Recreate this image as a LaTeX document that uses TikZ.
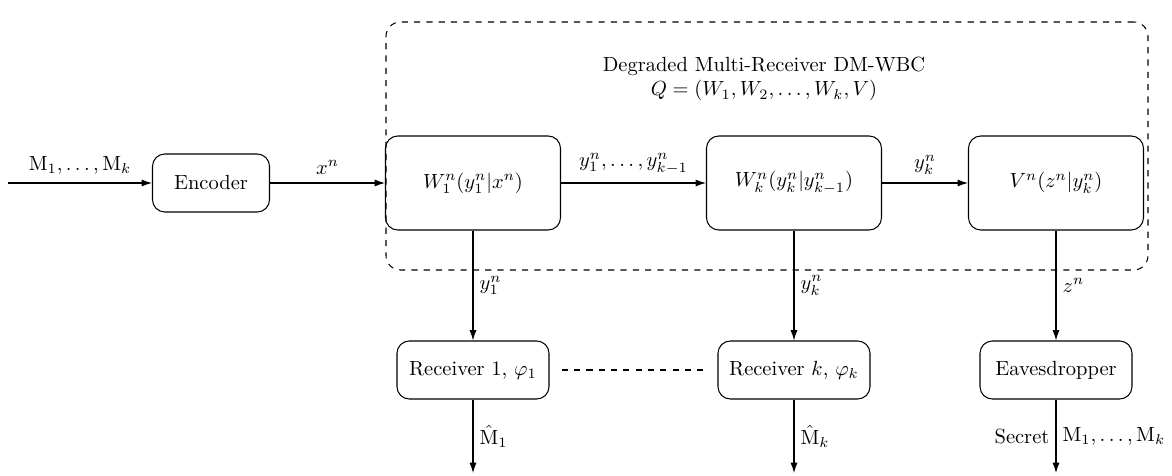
\documentclass[tikz,border=0pt]{standalone}
\usetikzlibrary{arrows.meta}
\begin{document}
\begin{tikzpicture}[x=0.4878pt,y=-0.4878pt,
  blk/.style={draw,rounded corners=6pt,line width=0.5pt,inner sep=0pt},
  flow/.style={-{Latex[length=5pt,width=3.4pt]},line width=0.5pt},
  lbl/.style={inner sep=1pt}]
\useasboundingbox (0,0) rectangle (1172,476);
% channel frame
\node[draw,dashed,rounded corners=7pt,line width=0.5pt,minimum width=762*0.4878pt,minimum height=248*0.4878pt,inner sep=0pt] (chan) at (767,146) {};
\node[anchor=base] (title) at (764,72) {Degraded Multi-Receiver DM-WBC};
\node[anchor=base] (qdef) at (764,96) {$Q=(W_1,W_2,\ldots,W_k,V)$};
% blocks
\node[blk,minimum width=117*0.4878pt,minimum height=58*0.4878pt] (enc) at (211,183) {Encoder};
\node[blk,minimum width=175*0.4878pt,minimum height=94*0.4878pt] (w1) at (473,183) {$W_1^n(y_1^n|x^n)$};
\node[blk,minimum width=175*0.4878pt,minimum height=94*0.4878pt] (wk) at (794,183) {$W_k^n(y_k^n|y_{k-1}^n)$};
\node[blk,minimum width=175*0.4878pt,minimum height=94*0.4878pt] (v) at (1056,183) {$V^n(z^n|y_k^n)$};
\node[blk,minimum width=152*0.4878pt,minimum height=58*0.4878pt] (r1) at (473,370) {Receiver 1, $\varphi_1$};
\node[blk,minimum width=152*0.4878pt,minimum height=58*0.4878pt] (rk) at (794,370) {Receiver $k$, $\varphi_k$};
\node[blk,minimum width=152*0.4878pt,minimum height=58*0.4878pt] (ev) at (1056,370) {Eavesdropper};
% free ends
\coordinate (in) at (8,183);
\coordinate (o1) at (473,473);
\coordinate (ok) at (794,473);
\coordinate (oe) at (1056,473);
% connectors
\draw[flow] (in) -- node[lbl,above,yshift=3pt] {$\mathrm{M}_1,\ldots,\mathrm{M}_k$} (enc);
\draw[flow] (enc) -- node[lbl,above,yshift=3pt] {$x^n$} (w1);
\draw[flow] (w1) -- node[lbl,above,yshift=3pt] {$y_1^n,\ldots,y_{k-1}^n$} (wk);
\draw[flow] (wk) -- node[lbl,above,yshift=3pt] {$y_k^n$} (v);
\draw[flow] (w1) -- node[lbl,right,pos=0.5,xshift=2pt] {$y_1^n$} (r1);
\draw[flow] (wk) -- node[lbl,right,pos=0.5,xshift=2pt] {$y_k^n$} (rk);
\draw[flow] (v) -- node[lbl,right,pos=0.5,xshift=2pt] {$z^n$} (ev);
\draw[flow] (r1) -- node[lbl,right,xshift=2pt] {$\hat{\mathrm{M}}_1$} (o1);
\draw[flow] (rk) -- node[lbl,right,xshift=2pt] {$\hat{\mathrm{M}}_k$} (ok);
\draw[flow] (ev) -- node[lbl,right,xshift=2pt] {$\mathrm{M}_1,\ldots,\mathrm{M}_k$} node[lbl,left,xshift=-2pt] {Secret} (oe);
\draw[dashed,line width=0.5pt] ([xshift=6pt]r1.east) -- ([xshift=-6pt]rk.west);
\end{tikzpicture}
\end{document}
